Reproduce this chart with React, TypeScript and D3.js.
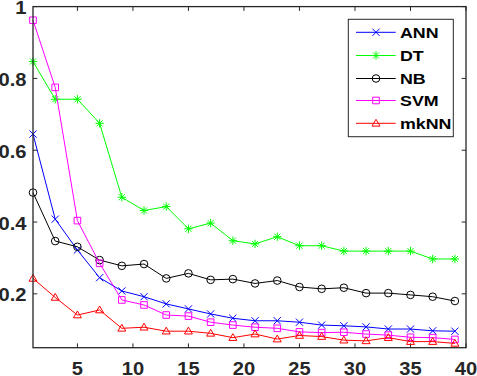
import React from "react";
import * as d3 from "d3";

// x positions of every sample
const xs = [1, 3, 5, 7, 9, 11, 13, 15, 17, 19, 21, 23, 25, 27, 29, 31, 33, 35, 37, 39];

const ann = [0.645, 0.408, 0.322, 0.245, 0.208, 0.192, 0.172, 0.158, 0.144, 0.132, 0.125, 0.125, 0.121, 0.113, 0.111, 0.108, 0.102, 0.102, 0.097, 0.096];
const dt = [0.847, 0.742, 0.742, 0.675, 0.469, 0.432, 0.443, 0.381, 0.397, 0.348, 0.339, 0.359, 0.334, 0.334, 0.319, 0.319, 0.319, 0.319, 0.297, 0.297];
const nb = [0.482, 0.347, 0.331, 0.294, 0.278, 0.283, 0.243, 0.257, 0.239, 0.241, 0.229, 0.237, 0.219, 0.214, 0.217, 0.202, 0.202, 0.197, 0.192, 0.18];
const svm = [0.962, 0.775, 0.404, 0.285, 0.183, 0.169, 0.141, 0.138, 0.121, 0.113, 0.107, 0.104, 0.094, 0.092, 0.093, 0.088, 0.085, 0.079, 0.078, 0.073];
const mknn = [0.243, 0.19, 0.141, 0.155, 0.104, 0.107, 0.096, 0.096, 0.09, 0.078, 0.088, 0.074, 0.084, 0.081, 0.071, 0.069, 0.078, 0.067, 0.067, 0.062];

const xTicks = [5, 10, 15, 20, 25, 30, 35, 40];
const yTicks = [0.2, 0.4, 0.6, 0.8, 1];

const series = [
  { name: "ANN", values: ann, color: "#0000ff", marker: "x" },
  { name: "DT", values: dt, color: "#00ff00", marker: "*" },
  { name: "NB", values: nb, color: "#000000", marker: "o" },
  { name: "SVM", values: svm, color: "#ff00ff", marker: "s" },
  { name: "mkNN", values: mknn, color: "#ff0000", marker: "^" },
];

const W = 477;
const H = 376;
const left = 33;
const right = 466;
const top = 6.6;
const bottom = 347.7;
const axisColor = "#262626";
const font = "'Liberation Sans', Arial, sans-serif";

const x = d3.scaleLinear().domain([1, 40]).range([left, right]);
const y = d3.scaleLinear().domain([0.05, 1]).range([bottom, top]);

function markerPath(type: string, cx: number, cy: number) {
  const r = 3.6;
  switch (type) {
    case "x":
      return `M${cx - r},${cy - r}L${cx + r},${cy + r}M${cx - r},${cy + r}L${cx + r},${cy - r}`;
    case "*": {
      const a = 4.2;
      const d = 3;
      return `M${cx - a},${cy}L${cx + a},${cy}M${cx},${cy - a}L${cx},${cy + a}` +
        `M${cx - d},${cy - d}L${cx + d},${cy + d}M${cx - d},${cy + d}L${cx + d},${cy - d}`;
    }
    case "o":
      return `M${cx + r + 0.2},${cy}A${r + 0.2},${r + 0.2} 0 1 1 ${cx - r - 0.2},${cy}A${r + 0.2},${r + 0.2} 0 1 1 ${cx + r + 0.2},${cy}Z`;
    case "s": {
      const s = 3.3;
      return `M${cx - s},${cy - s}H${cx + s}V${cy + s}H${cx - s}Z`;
    }
    case "^": {
      const t = 4;
      return `M${cx},${cy - t}L${cx + t},${cy + t * 0.7}L${cx - t},${cy + t * 0.7}Z`;
    }
  }
  return "";
}

const line = d3
  .line<number>()
  .x((_, i) => x(xs[i]))
  .y((v) => y(v));

export default function App() {
  const legendX = 348.3;
  const legendY = 19.3;
  const rowY = [32.3, 55.5, 78.5, 100.5, 123.3];

  return (
    <svg
      width={W}
      height={H}
      style={{ position: "absolute", left: 0, top: 0, background: "#fff" }}
    >
      <rect x={0} y={0} width={W} height={H} fill="#fff" />

      {/* ticks */}
      {xTicks.map((t) => (
        <g key={"xt" + t} stroke={axisColor} strokeWidth={1}>
          <line x1={x(t)} x2={x(t)} y1={bottom} y2={bottom - 4.3} />
          <line x1={x(t)} x2={x(t)} y1={top} y2={top + 4.3} />
        </g>
      ))}
      {yTicks.map((t) => (
        <g key={"yt" + t} stroke={axisColor} strokeWidth={1}>
          <line x1={left} x2={left + 4.3} y1={y(t)} y2={y(t)} />
          <line x1={right} x2={right - 4.3} y1={y(t)} y2={y(t)} />
        </g>
      ))}

      {/* series */}
      {series.map((s) => (
        <g key={s.name}>
          <path d={line(s.values) || ""} fill="none" stroke={s.color} strokeWidth={1} />
          {s.values.map((v, i) => (
            <path
              key={i}
              d={markerPath(s.marker, x(xs[i]), y(v))}
              fill="none"
              stroke={s.color}
              strokeWidth={1}
            />
          ))}
        </g>
      ))}

      {/* axes box */}
      <rect
        x={left}
        y={top}
        width={right - left}
        height={bottom - top}
        fill="none"
        stroke={axisColor}
        strokeWidth={1.3}
      />

      {/* tick labels */}
      {xTicks.map((t) => (
        <text
          key={"xl" + t}
          transform={`translate(${x(t)},${374.6}) scale(1.15,1)`}
          textAnchor="middle"
          fontFamily={font}
          fontWeight="bold"
          fontSize={17.5}
          fill={axisColor}
        >
          {t}
        </text>
      ))}
      {yTicks.map((t) => (
        <text
          key={"yl" + t}
          transform={`translate(${26.5},${y(t) + 7.6}) scale(1.15,1)`}
          textAnchor="end"
          fontFamily={font}
          fontWeight="bold"
          fontSize={17.5}
          fill={axisColor}
        >
          {t === 1 ? "1" : t.toFixed(1)}
        </text>
      ))}

      {/* legend */}
      <rect
        x={legendX}
        y={legendY}
        width={105}
        height={117.4}
        fill="#fff"
        stroke={axisColor}
        strokeWidth={1}
      />
      {series.map((s, i) => (
        <g key={"lg" + s.name}>
          <line x1={356} x2={395.7} y1={rowY[i]} y2={rowY[i]} stroke={s.color} strokeWidth={1} />
          <path d={markerPath(s.marker, 376, rowY[i])} fill="none" stroke={s.color} strokeWidth={1} />
          <text
            transform={`translate(${400},${rowY[i] + 5.5}) scale(1.15,1)`}
            fontFamily={font}
            fontWeight="bold"
            fontSize={15.5}
            fill="#000"
          >
            {s.name}
          </text>
        </g>
      ))}
    </svg>
  );
}
